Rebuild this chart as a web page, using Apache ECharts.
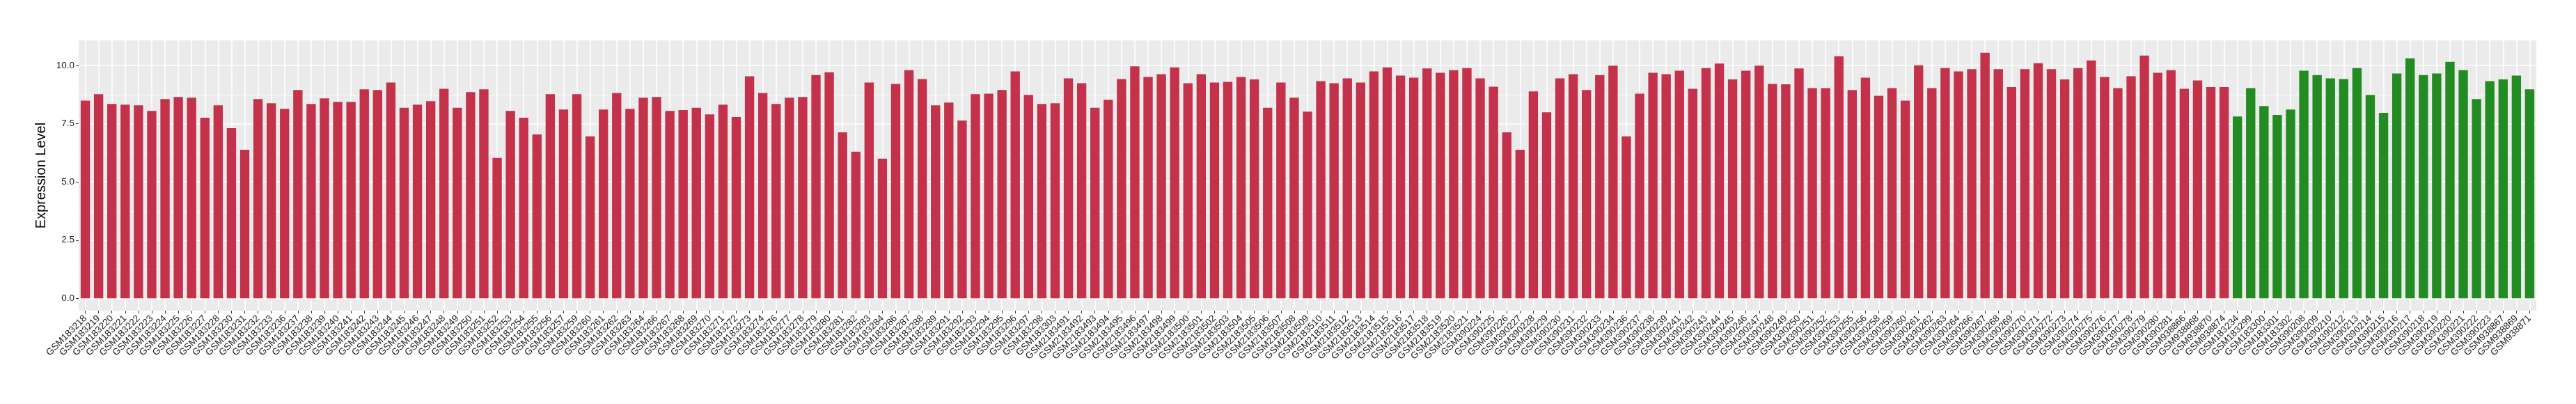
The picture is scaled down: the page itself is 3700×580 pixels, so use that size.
<!DOCTYPE html>
<html>
<head>
<meta charset="utf-8">
<script src="https://cdn.jsdelivr.net/npm/echarts@6/dist/echarts.min.js"></script>
<style>
html,body{margin:0;padding:0;background:#fff;}
#chart{width:3700px;height:580px;}
</style>
</head>
<body>
<div id="chart"></div>
<script>
// ---- data ----
const tumorSamples = [
 'GSM183218','GSM183219','GSM183220','GSM183221','GSM183222','GSM183223','GSM183224','GSM183225','GSM183226','GSM183227','GSM183228','GSM183230','GSM183231','GSM183232','GSM183233','GSM183236','GSM183237','GSM183238','GSM183239','GSM183240','GSM183241','GSM183242','GSM183243','GSM183244','GSM183245','GSM183246','GSM183247','GSM183248','GSM183249','GSM183250','GSM183251','GSM183252','GSM183253','GSM183254','GSM183255','GSM183256','GSM183257','GSM183259','GSM183260','GSM183261','GSM183262','GSM183263','GSM183264','GSM183266','GSM183267','GSM183268','GSM183269','GSM183270','GSM183271','GSM183272','GSM183273','GSM183274','GSM183276','GSM183277','GSM183278','GSM183279','GSM183280','GSM183281','GSM183282','GSM183283','GSM183284','GSM183286','GSM183287','GSM183288','GSM183289','GSM183291','GSM183292','GSM183293','GSM183294','GSM183295','GSM183296','GSM183297','GSM183298','GSM183303',
 'GSM2183491','GSM2183492','GSM2183493','GSM2183494','GSM2183495','GSM2183496','GSM2183497','GSM2183498','GSM2183499','GSM2183500','GSM2183501','GSM2183502','GSM2183503','GSM2183504','GSM2183505','GSM2183506','GSM2183507','GSM2183508','GSM2183509','GSM2183510','GSM2183511','GSM2183512','GSM2183513','GSM2183514','GSM2183515','GSM2183516','GSM2183517','GSM2183518','GSM2183519','GSM2183520','GSM2183521',
 'GSM390224','GSM390225','GSM390226','GSM390227','GSM390228','GSM390229','GSM390230','GSM390231','GSM390232','GSM390233','GSM390234','GSM390236','GSM390237','GSM390238','GSM390239','GSM390241','GSM390242','GSM390243','GSM390244','GSM390245','GSM390246','GSM390247','GSM390248','GSM390249','GSM390250','GSM390251','GSM390252','GSM390253','GSM390255','GSM390256','GSM390258','GSM390259','GSM390260','GSM390261','GSM390262','GSM390263','GSM390264','GSM390266','GSM390267','GSM390268','GSM390269','GSM390270','GSM390271','GSM390272','GSM390273','GSM390274','GSM390275','GSM390276','GSM390277','GSM390278','GSM390279','GSM390280','GSM390281',
 'GSM938866','GSM938868','GSM938870','GSM938874'
];
const tumorValues = [
 8.49,8.77,8.35,8.32,8.29,8.05,8.56,8.65,8.62,7.76,8.29,7.31,6.38,8.56,8.38,8.14,8.95,8.35,8.59,8.44,8.44,8.98,8.95,9.27,8.18,8.32,8.47,9.00,8.18,8.86,8.98,6.03,8.05,7.76,7.04,8.77,8.11,8.77,6.96,8.11,8.82,8.14,8.62,8.65,8.05,8.09,8.18,7.90,8.32,7.79,9.54,8.82,8.35,8.62,8.65,9.59,9.71,7.13,6.30,9.27,6.00,9.21,9.80,9.42,8.29,8.41,7.64,8.77,8.79,8.95,9.75,8.74,8.35,8.38,
 9.45,9.24,8.18,8.53,9.42,9.96,9.51,9.63,9.92,9.24,9.63,9.27,9.30,9.51,9.40,8.18,9.27,8.62,8.02,9.33,9.24,9.45,9.27,9.75,9.92,9.57,9.48,9.87,9.69,9.80,9.89,
 9.45,9.09,7.13,6.38,8.89,7.99,9.45,9.63,8.95,9.59,9.99,6.96,8.79,9.69,9.63,9.78,9.00,9.89,10.08,9.40,9.78,9.99,9.21,9.19,9.87,9.03,9.03,10.40,8.95,9.48,8.70,9.03,8.49,10.01,9.03,9.89,9.75,9.84,10.55,9.84,9.07,9.84,10.10,9.84,9.40,9.89,10.22,9.51,9.03,9.54,10.43,9.69,9.80,
 9.00,9.36,9.07,9.07
];
const normalSamples = [
 'GSM183234','GSM183299','GSM183300','GSM183301','GSM183302',
 'GSM390208','GSM390209','GSM390210','GSM390212','GSM390213','GSM390214','GSM390215','GSM390216','GSM390217','GSM390218','GSM390219','GSM390220','GSM390221','GSM390222','GSM390223',
 'GSM938867','GSM938869','GSM938871'
];
const normalValues = [
 7.81,9.03,8.26,7.88,8.11,
 9.78,9.59,9.45,9.42,9.89,8.74,7.97,9.66,10.31,9.59,9.66,10.16,9.80,8.56,9.33,
 9.40,9.57,8.98
];
const yTicks = [0, 2.5, 5, 7.5, 10];
const yMinorTicks = [1.25, 3.75, 6.25, 8.75];
const yTickLabels = ['0.0', '2.5', '5.0', '7.5', '10.0'];
const yTitle = 'Expression Level';

// ---- build ----
const categories = tumorSamples.concat(normalSamples);
const tumorData = tumorValues.concat(normalSamples.map(() => null));
const normalData = tumorSamples.map(() => null).concat(normalValues);
const dataMax = Math.max(...tumorValues, ...normalValues);
const yMin = -0.05 * dataMax, yMax = 1.05 * dataMax;

const FONT = 'Liberation Sans, Arial, Helvetica, sans-serif';
const gridLines = [];
categories.forEach(c => gridLines.push({xAxis: c, lineStyle: {color: '#fff', width: 1.6, type: 'solid'}}));
yTicks.forEach(v => gridLines.push({yAxis: v, lineStyle: {color: '#fff', width: 1.6, type: 'solid'}}));
yMinorTicks.forEach(v => gridLines.push({yAxis: v, lineStyle: {color: '#fff', width: 0.8, type: 'solid'}}));

const chart = echarts.init(document.getElementById('chart'), null, {renderer: 'canvas'});
chart.setOption({
  animation: false,
  backgroundColor: '#ffffff',
  textStyle: {fontFamily: FONT},
  grid: {left: 113, right: 57, top: 58, bottom: 134, show: true, backgroundColor: '#EBEBEB', borderWidth: 0, containLabel: false, z: 0},
  xAxis: {
    type: 'category',
    data: categories,
    boundaryGap: true,
    axisLine: {show: false, onZero: false},
    axisTick: {show: true, alignWithLabel: true, length: 4, lineStyle: {color: '#333', width: 1}, interval: 0},
    axisLabel: {interval: 0, rotate: 45, fontSize: 13.5, color: '#1a1a1a', fontFamily: FONT, margin: 9},
    splitLine: {show: false}
  },
  yAxis: {
    type: 'value',
    min: yMin, max: yMax,
    name: yTitle,
    nameLocation: 'middle',
    nameGap: 38,
    nameTextStyle: {fontSize: 20, color: '#000', fontFamily: FONT},
    axisLine: {show: false},
    axisTick: {show: true, length: 4, lineStyle: {color: '#333', width: 1}, customValues: yTicks},
    axisLabel: {fontSize: 13.5, color: '#1a1a1a', fontFamily: FONT, margin: 6, customValues: yTicks,
      formatter: v => { const i = yTicks.indexOf(v); return i >= 0 ? yTickLabels[i] : ''; }},
    splitLine: {show: false}
  },
  series: [
    {
      type: 'line', data: [], z: 1, silent: true, symbol: 'none',
      markLine: {silent: true, z: 1, symbol: ['none', 'none'], label: {show: false}, animation: false, data: gridLines}
    },
    {type: 'bar', name: 'Tumor', data: tumorData, barWidth: '70%', barGap: '-100%', z: 3, itemStyle: {color: '#C3314A'}},
    {type: 'bar', name: 'Normal', data: normalData, barWidth: '70%', barGap: '-100%', z: 3, itemStyle: {color: '#228B22'}}
  ]
});
</script>
</body>
</html>
